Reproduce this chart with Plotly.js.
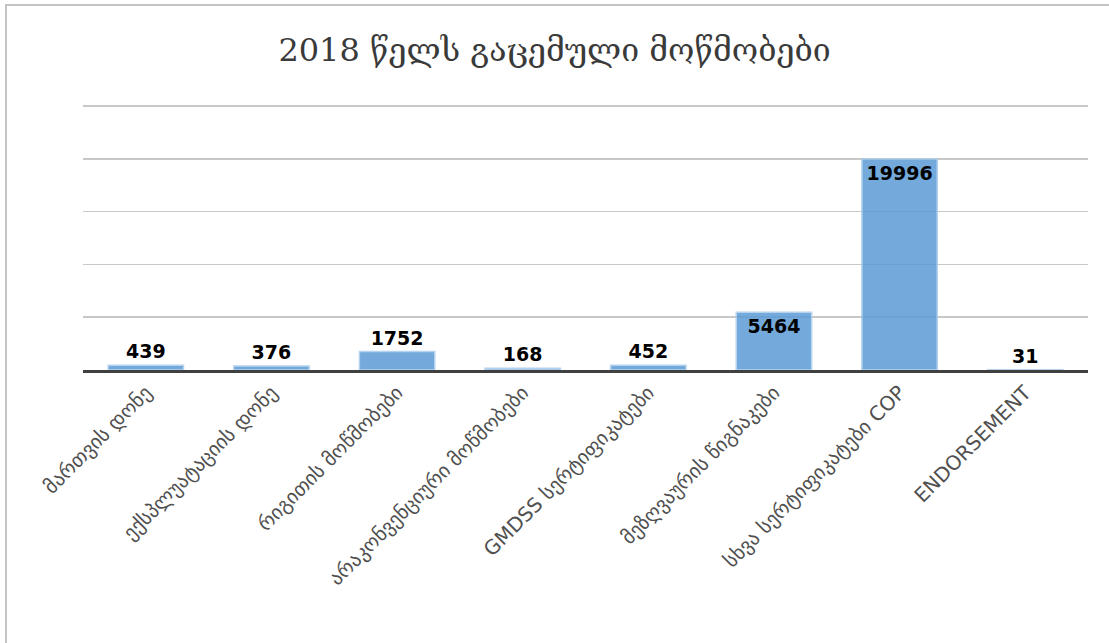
<!DOCTYPE html>
<html>
<head>
<meta charset="utf-8">
<script src="https://cdn.plot.ly/plotly-3.0.1.min.js"></script>
<style>
  html, body { margin: 0; padding: 0; background: #ffffff; }
  #wrap { position: relative; width: 1109px; height: 643px; overflow: hidden; }
  #frame { position: absolute; left: 5px; top: 4px; width: 1110px; height: 650px;
           border-left: 2px solid #c4c4c4; border-top: 2px solid #c4c4c4; }
  #chart { position: absolute; left: 0; top: 0; width: 1109px; height: 643px; }
</style>
</head>
<body>
<div id="wrap">
  <div id="frame"></div>
  <div id="chart"></div>
</div>
<script>
const titleText = "2018 წელს გაცემული მოწმობები";
const categories = [
  "მართვის დონე",
  "ექსპლუატაციის დონე",
  "რიგითის მოწმობები",
  "არაკონვენციური მოწმობები",
  "GMDSS სერტიფიკატები",
  "მეზღვაურის წიგნაკები",
  "სხვა სერტიფიკატები COP",
  "ENDORSEMENT"
];
const counts = [439, 376, 1752, 168, 452, 5464, 19996, 31];

const labelFont = { family: "DejaVu Sans", size: 19, color: "#000000", weight: "bold" };

const trace = {
  type: "bar",
  x: categories,
  y: counts,
  text: counts.map(String),
  textposition: "auto",
  textangle: 0,
  cliponaxis: false,
  insidetextfont: labelFont,
  outsidetextfont: labelFont,
  textfont: labelFont,
  marker: { color: "#5b9bd5", opacity: 0.85, line: { color: "#a9cbec", width: 1.5 } },
  hoverinfo: "x+y"
};

const layout = {
  width: 1109,
  height: 643,
  margin: { l: 83, r: 21, t: 104, b: 273 },
  paper_bgcolor: "rgba(0,0,0,0)",
  plot_bgcolor: "rgba(0,0,0,0)",
  showlegend: false,
  bargap: 0.4,
  title: {
    text: titleText,
    x: 0.5, xanchor: "center",
    y: 0.922, yanchor: "middle",
    font: { family: "DejaVu Serif", size: 32, color: "#3a3a3a" }
  },
  xaxis: {
    type: "category",
    tickangle: -45,
    tickfont: { family: "DejaVu Sans", size: 20, color: "#505050" },
    showline: true, linecolor: "#404040", linewidth: 3,
    ticks: "", showgrid: false, zeroline: false,
    automargin: false
  },
  yaxis: {
    range: [0, 25200],
    tickvals: [5000, 10000, 15000, 20000, 25000],
    showticklabels: false,
    showgrid: true, gridcolor: "#c8c8c8", gridwidth: 1.5,
    zeroline: false, showline: false, ticks: "",
    automargin: false
  }
};

Plotly.newPlot("chart", [trace], layout, { displayModeBar: false, staticPlot: true });
</script>
</body>
</html>
